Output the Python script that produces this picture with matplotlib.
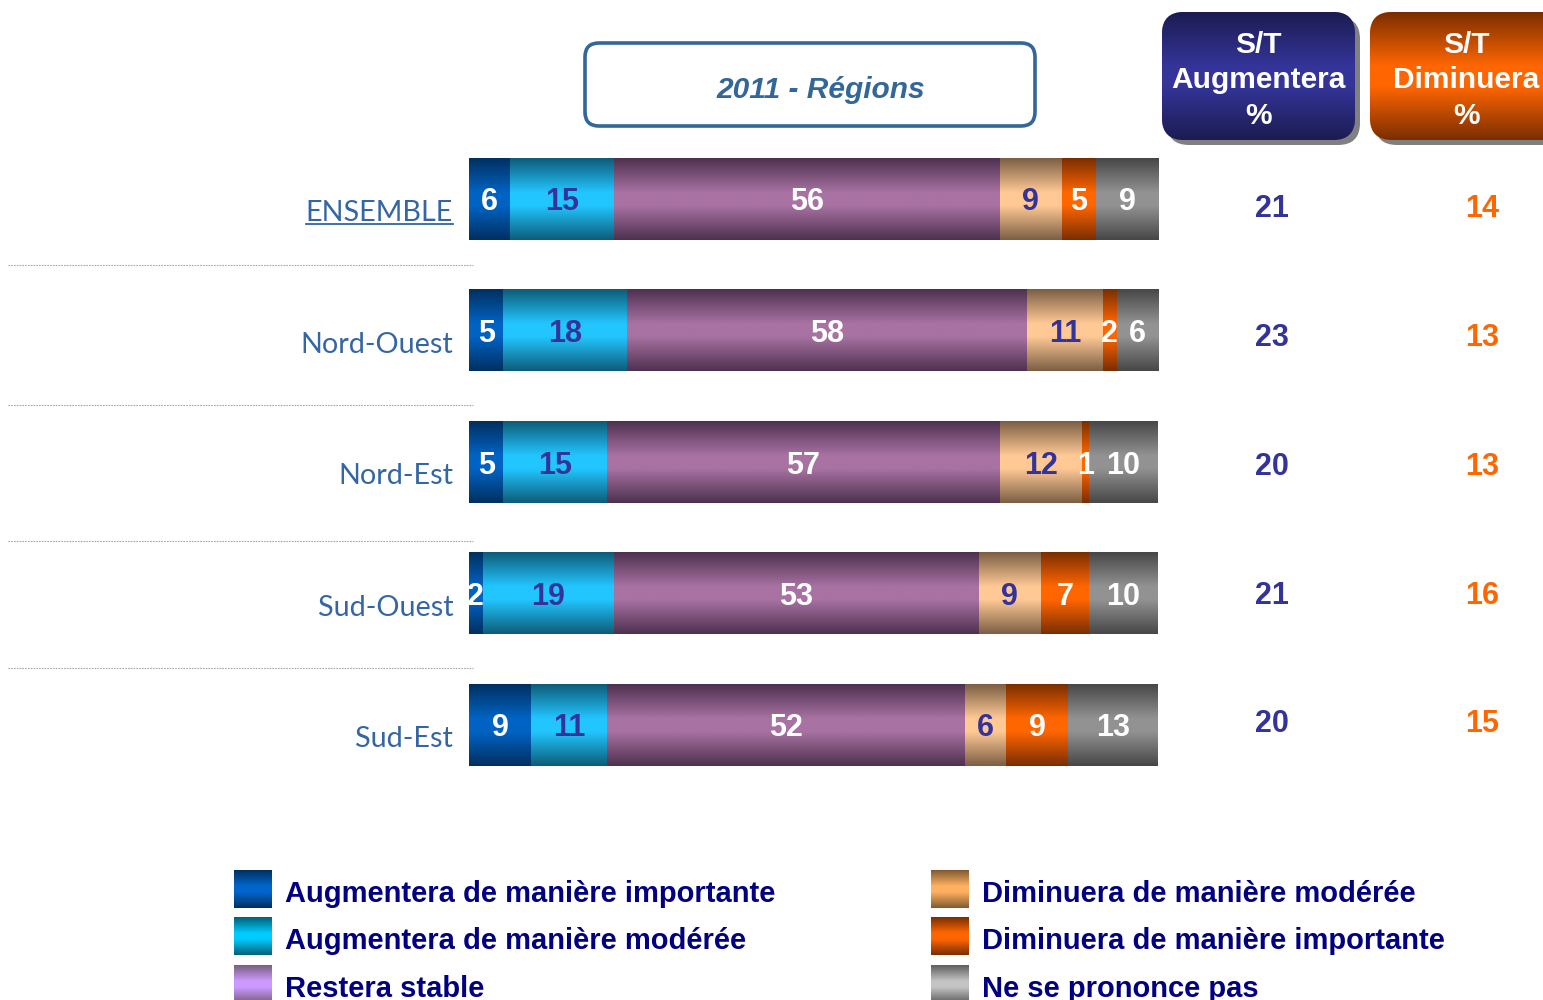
import numpy as np
import matplotlib
matplotlib.use("Agg")
import matplotlib.pyplot as plt
from matplotlib.colors import LinearSegmentedColormap
from matplotlib.patches import FancyBboxPatch

plt.rcParams['font.family'] = ['Liberation Sans', 'DejaVu Sans']

# data
regions = ['ENSEMBLE', 'Nord-Ouest', 'Nord-Est', 'Sud-Ouest', 'Sud-Est']
categories = ['Augmentera de manière importante', 'Augmentera de manière modérée',
              'Restera stable', 'Diminuera de manière modérée',
              'Diminuera de manière importante', 'Ne se prononce pas']
aug_imp = [6, 5, 5, 2, 9]
aug_mod = [15, 18, 15, 19, 11]
stable = [56, 58, 57, 53, 52]
dim_mod = [9, 11, 12, 9, 6]
dim_imp = [5, 2, 1, 7, 9]
nsp = [9, 6, 10, 10, 13]
st_aug = [21, 23, 20, 21, 20]
st_dim = [14, 13, 13, 16, 15]

series = [aug_imp, aug_mod, stable, dim_mod, dim_imp, nsp]
# (dark edge, bright middle) for bar gradients
bar_cols = [('#00305F', '#0063C4'), ('#0E5C78', '#22C6FF'), ('#4E3150', '#A872A2'),
            ('#7C5F44', '#FFC995'), ('#7A2E00', '#FF6600'), ('#474747', '#929292')]
leg_cols = [('#003060', '#0066CC'), ('#006078', '#00CCFF'), ('#7A5E80', '#CC99FF'),
            ('#805A30', '#FFB060'), ('#7A2E00', '#FF6600'), ('#5E5E5E', '#C4C4C4')]
txt_cols = ['white', '#333399', 'white', '#333399', 'white', 'white']
narrow = ['Liberation Sans Narrow', 'Liberation Sans', 'DejaVu Sans']


def gcmap(dark, mid):
    return LinearSegmentedColormap.from_list('g', [(0, dark), (0.42, mid), (0.58, mid), (1, dark)])


grad = np.linspace(0, 1, 200).reshape(-1, 1)

fig = plt.figure(figsize=(15.43, 10), dpi=100)

# decoration layer in pixel coordinates
deco = fig.add_axes([0, 0, 1, 1], zorder=0)
deco.set_xlim(0, 1543)
deco.set_ylim(1000, 0)
deco.axis('off')

ax = fig.add_axes([469 / 1543, 1 - 790.75 / 1000, 689 / 1543, 657.5 / 1000], zorder=1)
ax.patch.set_visible(False)

y = np.arange(len(regions))
left = np.zeros(len(regions))
for j, vals in enumerate(series):
    vals = np.array(vals, dtype=float)
    bars = ax.barh(y, vals, left=left, height=0.62, color=bar_cols[j][1], zorder=2)
    cm = gcmap(*bar_cols[j])
    for p in bars:
        x0, y0, w, h = p.get_x(), p.get_y(), p.get_width(), p.get_height()
        ax.imshow(grad, cmap=cm, extent=[x0, x0 + w, y0, y0 + h], origin='lower',
                  aspect='auto', interpolation='bilinear', zorder=2)
    for i, v in enumerate(vals):
        ax.text(left[i] + v / 2, y[i], f'{int(v)}', ha='center', va='center_baseline',
                fontsize=22, fontweight='bold', family=narrow, color=txt_cols[j], zorder=5)
    left += vals

ax.set_xlim(0, 100)
ax.set_ylim(4.5, -0.5)
ax.axis('off')

# row labels and totals
lab_objs = []
for i, r in enumerate(regions):
    t = ax.text(-2.3, y[i] + 0.09, r, ha='right', va='center_baseline', fontsize=20.7,
                family=['Lato', 'DejaVu Sans'], color='#3465A4', clip_on=False)
    lab_objs.append(t)
    yy = 0.053 + i * 0.979
    ax.text(116.6, yy, str(st_aug[i]), ha='center', va='center_baseline',
            fontsize=22, fontweight='bold', color='#333399', clip_on=False)
    ax.text(147.0, yy, str(st_dim[i]), ha='center', va='center_baseline',
            fontsize=22, fontweight='bold', color='#FF6600', clip_on=False)

# separators
for sy in [265, 405, 541, 668]:
    deco.plot([8, 473], [sy, sy], color='#A8A8A8', lw=0.8, ls=(0, (1.5, 1)))

# title box
tb = FancyBboxPatch((585, 43), 450, 83, boxstyle='round,pad=0,rounding_size=14',
                    fc='white', ec='#336699', lw=2.6)
deco.add_patch(tb)
deco.text(821, 90, '2011 - Régions', ha='center', va='center', fontsize=21.5,
          fontweight='bold', fontstyle='italic', color='#336699')

# header boxes
for x0, w, cols, lines in [(1162, 193, ('#1C1C52', '#343499'), ['S/T', 'Augmentera', '%']),
                           (1370, 200, ('#7A2E00', '#FF6600'), ['S/T', 'Diminuera', '%'])]:
    sh = FancyBboxPatch((x0 + 5, 17), w, 128, boxstyle='round,pad=0,rounding_size=22',
                        fc='#808080', ec='none', zorder=1)
    deco.add_patch(sh)
    bx = FancyBboxPatch((x0, 12), w, 128, boxstyle='round,pad=0,rounding_size=22',
                        fc=cols[1], ec='none', zorder=2)
    deco.add_patch(bx)
    im = deco.imshow(grad, cmap=gcmap(*cols), extent=[x0, x0 + w, 140, 12],
                     aspect='auto', interpolation='bilinear', zorder=3)
    im.set_clip_path(bx)
    for k, ln in enumerate(lines):
        deco.text(x0 + 96, 45 + k * 35.5, ln, ha='center', va='center', fontsize=21.5,
                  fontweight='bold', color='white', zorder=4)

# legend
leg_pos = [(234, 889), (234, 936), (234, 984), (931, 889), (931, 936), (931, 984)]
for j, (lx, ly) in enumerate(leg_pos):
    deco.imshow(grad, cmap=gcmap(*leg_cols[j]), extent=[lx, lx + 38, ly + 19, ly - 19],
                aspect='auto', interpolation='bilinear')
    deco.text(lx + 51, ly + 2, categories[j], ha='left', va='center_baseline', fontsize=21,
              fontweight='bold', color='#000080')

deco.set_xlim(0, 1543)
deco.set_ylim(1000, 0)

# underline ENSEMBLE
fig.canvas.draw()
bb = lab_objs[0].get_window_extent()
inv = deco.transData.inverted()
(ux0, uy0), (ux1, _) = inv.transform([(bb.x0, bb.y0), (bb.x1, bb.y0)])
deco.plot([ux0, ux1], [uy0 - 2, uy0 - 2], color='#3465A4', lw=1.3)

fig.savefig('out.png', dpi=100)
